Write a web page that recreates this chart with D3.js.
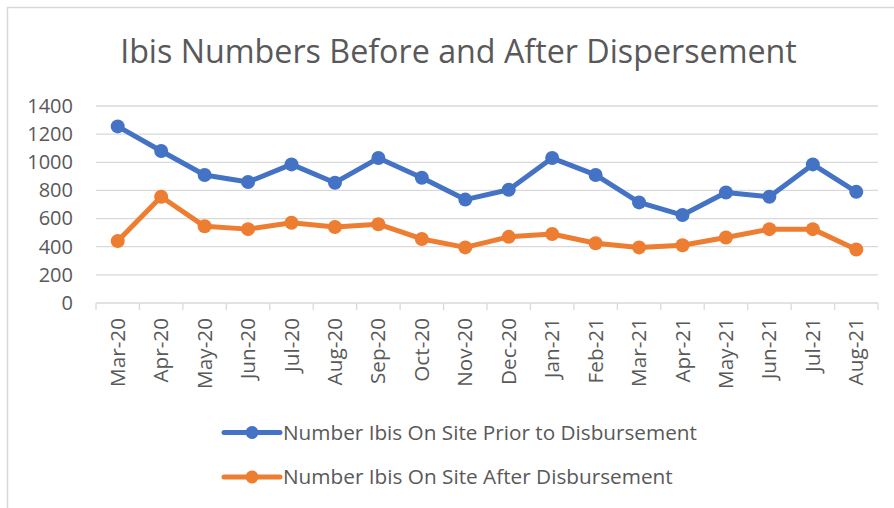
<!DOCTYPE html>
<html>
<head>
<meta charset="utf-8">
<script src="https://cdn.jsdelivr.net/npm/d3@7"></script>
<style>
  body { margin: 0; background: #fff; }
  svg { display: block; font-family: "Open Sans", sans-serif; }
</style>
</head>
<body>
<div id="chart"></div>
<script>
const months = ["Mar-20", "Apr-20", "May-20", "Jun-20", "Jul-20", "Aug-20", "Sep-20", "Oct-20", "Nov-20",
  "Dec-20", "Jan-21", "Feb-21", "Mar-21", "Apr-21", "May-21", "Jun-21", "Jul-21", "Aug-21"];
const priorValues = [1255, 1080, 910, 860, 985, 855, 1030, 890, 735, 805, 1030, 910, 715, 625, 785, 755, 985, 790];
const afterValues = [440, 755, 545, 525, 570, 540, 560, 455, 395, 470, 490, 425, 395, 410, 465, 525, 525, 380];
const yTicks = [0, 200, 400, 600, 800, 1000, 1200, 1400];
const seriesNames = ["Number Ibis On Site Prior to Disbursement", "Number Ibis On Site After Disbursement"];
const colors = ["#4472C4", "#ED7D31"];

const width = 894, height = 508;
const margin = { top: 106, right: 16, bottom: 205, left: 96 };
const innerW = width - margin.left - margin.right;
const innerH = height - margin.top - margin.bottom;
const textColor = "#595959";

const svg = d3.select("#chart").append("svg")
  .attr("width", width)
  .attr("height", height);

// outer chart border (only left and top are visible in the picture)
svg.append("rect")
  .attr("x", 7.5).attr("y", 7.5)
  .attr("width", width + 10).attr("height", height + 10)
  .attr("fill", "none")
  .attr("stroke", "#d9d9d9")
  .attr("stroke-width", 1.5);

// shrink or grow a text element so it spans a given width
function fitWidth(sel, target) {
  const node = sel.node();
  const size = parseFloat(sel.style("font-size"));
  const w = node.getComputedTextLength();
  const fitted = size * target / w;
  sel.style("font-size", fitted + "px");
  return fitted;
}

const title = svg.append("text")
  .attr("x", 458.5)
  .attr("y", 63)
  .attr("text-anchor", "middle")
  .style("font-size", "34px")
  .style("fill", textColor)
  .text("Ibis Numbers Before and After Dispersement");
fitWidth(title, 677);

const g = svg.append("g")
  .attr("transform", `translate(${margin.left},${margin.top})`);

const x = d3.scaleBand()
  .domain(months)
  .range([0, innerW]);

const y = d3.scaleLinear()
  .domain([0, 1400])
  .range([innerH, 0]);

// horizontal grid
g.selectAll("line.grid")
  .data(yTicks.filter(d => d > 0))
  .enter().append("line")
  .attr("class", "grid")
  .attr("x1", 0)
  .attr("x2", innerW)
  .attr("y1", d => y(d))
  .attr("y2", d => y(d))
  .style("stroke", "#d9d9d9")
  .style("stroke-width", 1.3);

// y axis labels
const yAxis = d3.axisLeft(y).tickValues(yTicks).tickFormat(d3.format("d")).tickSize(0).tickPadding(23);
g.append("g")
  .call(yAxis)
  .call(a => a.select(".domain").remove())
  .selectAll("text")
  .style("font-family", "'Open Sans', sans-serif")
  .style("font-size", "20px")
  .style("fill", textColor);

// x axis with tick marks between categories
const xAxisG = g.append("g")
  .attr("transform", `translate(0,${innerH})`);

xAxisG.append("line")
  .attr("x1", 0).attr("x2", innerW)
  .style("stroke", "#d9d9d9")
  .style("stroke-width", 1.3);

xAxisG.selectAll("line.tick")
  .data(months.concat(["end"]))
  .enter().append("line")
  .attr("class", "tick")
  .attr("x1", (d, i) => i < months.length ? x(d) : innerW)
  .attr("x2", (d, i) => i < months.length ? x(d) : innerW)
  .attr("y1", 0)
  .attr("y2", 7)
  .style("stroke", "#d9d9d9")
  .style("stroke-width", 1.3);

const monthLabels = xAxisG.selectAll("text.month")
  .data(months)
  .enter().append("text")
  .attr("class", "month")
  .attr("transform", d => `translate(${x(d) + x.bandwidth() / 2 + 7},15) rotate(-90)`)
  .attr("text-anchor", "end")
  .style("font-size", "19px")
  .style("fill", textColor)
  .text(d => d);
const monthSize = fitWidth(d3.select(monthLabels.node()), 69);
monthLabels.style("font-size", monthSize + "px");

// series
const series = [priorValues, afterValues];
const line = d3.line()
  .x((d, i) => x(months[i]) + x.bandwidth() / 2)
  .y(d => y(d));

series.forEach((vals, s) => {
  g.append("path")
    .datum(vals)
    .attr("d", line)
    .attr("fill", "none")
    .attr("stroke", colors[s])
    .attr("stroke-width", 5)
    .attr("stroke-linejoin", "round");

  g.selectAll(".pt" + s)
    .data(vals)
    .enter().append("circle")
    .attr("class", "pt" + s)
    .attr("cx", (d, i) => x(months[i]) + x.bandwidth() / 2)
    .attr("cy", d => y(d))
    .attr("r", 7)
    .attr("fill", colors[s]);
});

// legend
const legend = svg.append("g");
const legendRows = [{ y: 432.5, w: 414 }, { y: 477, w: 390 }];
seriesNames.forEach((name, s) => {
  const row = legend.append("g")
    .attr("transform", `translate(224,${legendRows[s].y})`);
  row.append("line")
    .attr("x1", 0).attr("x2", 56)
    .attr("stroke", colors[s])
    .attr("stroke-width", 5)
    .attr("stroke-linecap", "round");
  row.append("circle")
    .attr("cx", 28)
    .attr("r", 6.5)
    .attr("fill", colors[s]);
  const t = row.append("text")
    .attr("x", 59)
    .attr("dy", "0.35em")
    .style("font-size", "20px")
    .style("fill", textColor)
    .text(name);
  fitWidth(t, legendRows[s].w);
});
</script>
</body>
</html>
